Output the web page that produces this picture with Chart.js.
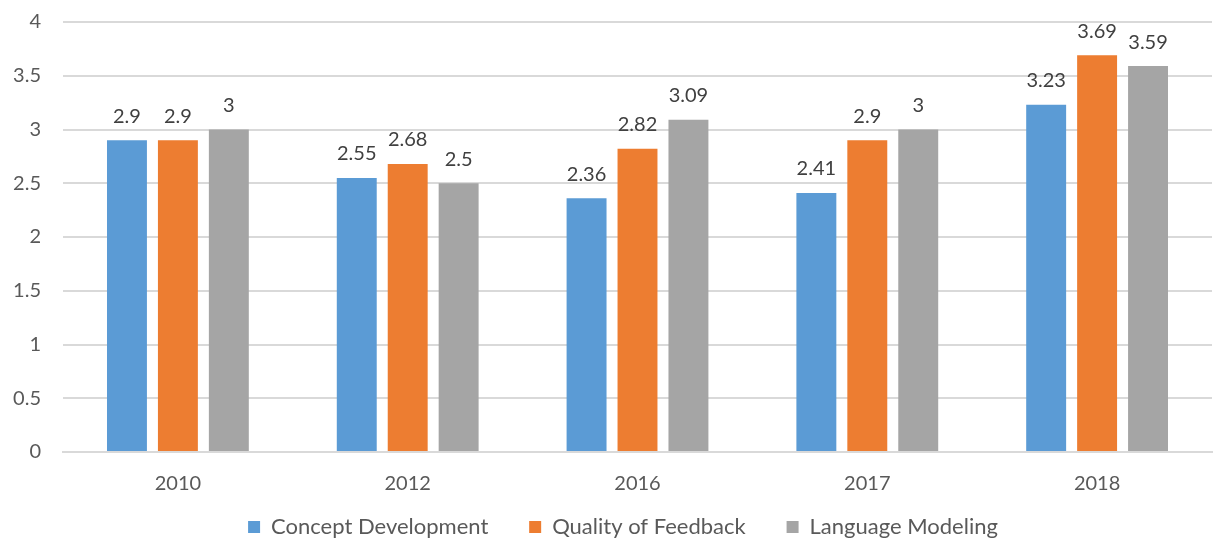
<!DOCTYPE html>
<html>
  <head>
    <script src="https://cdn.jsdelivr.net/npm/chart.js@4.4.0/dist/chart.umd.min.js"></script>
    <style>
      html, body { margin: 0; padding: 0; background: #fff; }
      .chart-container { width: 1217px; height: 539px; }
    </style>
  </head>
  <body>
    <div class="chart-container">
      <canvas id="myChart"></canvas>
    </div>
    <script>
      // chart data
      var years = ["2010", "2012", "2016", "2017", "2018"];
      var conceptDevelopment = [2.9, 2.55, 2.36, 2.41, 3.23];
      var qualityOfFeedback = [2.9, 2.68, 2.82, 2.9, 3.69];
      var languageModeling = [3, 2.5, 3.09, 3, 3.59];

      var FONT = "Lato, 'Open Sans', sans-serif";

      // draws the value above every bar
      var valueLabels = {
        id: "valueLabels",
        afterDatasetsDraw: function (chart) {
          var ctx = chart.ctx;
          ctx.save();
          ctx.font = "20px " + FONT;
          ctx.fillStyle = "#404040";
          ctx.textAlign = "center";
          ctx.textBaseline = "middle";
          chart.data.datasets.forEach(function (ds, i) {
            chart.getDatasetMeta(i).data.forEach(function (bar, j) {
              ctx.fillText(String(ds.data[j]), bar.x, bar.y - 24);
            });
          });
          ctx.restore();
        },
      };

      // legend in the original sits a bit right of centre
      var legendShift = {
        id: "legendShift",
        afterLayout: function (chart) {
          chart.legend.left += 17;
          chart.legend.right += 17;
        },
      };

      var ctx = document.getElementById("myChart").getContext("2d");
      var chart = new Chart(ctx, {
        type: "bar",
        data: {
          labels: years,
          datasets: [
            { label: "Concept Development", data: conceptDevelopment, backgroundColor: "#5b9bd5" },
            { label: "Quality of Feedback", data: qualityOfFeedback, backgroundColor: "#ed7d31" },
            { label: "Language Modeling", data: languageModeling, backgroundColor: "#a5a5a5" },
          ],
        },
        options: {
          responsive: true,
          maintainAspectRatio: false,
          animation: false,
          layout: { padding: { top: 22, right: 5, left: 0, bottom: -9 } },
          datasets: {
            bar: { categoryPercentage: 0.665, barPercentage: 0.784 },
          },
          plugins: {
            tooltip: { enabled: false },
            legend: {
              position: "bottom",
              labels: {
                boxWidth: 12,
                boxHeight: 12,
                padding: 24,
                color: "#595959",
                font: { family: FONT, size: 22 },
                generateLabels: function (chart) {
                  var items = Chart.defaults.plugins.legend.labels.generateLabels(chart);
                  items.forEach(function (it, i) {
                    if (i < items.length - 1) it.text += "   ";
                  });
                  return items;
                },
              },
            },
          },
          scales: {
            x: {
              grid: { display: false },
              border: { color: "#d9d9d9", width: 2 },
              ticks: { color: "#595959", font: { family: FONT, size: 20 }, padding: 12 },
              afterFit: function (scale) {
                scale.height = 40;
                scale.paddingLeft = 0;
                scale.paddingRight = 0;
              },
            },
            y: {
              min: 0,
              max: 4,
              ticks: {
                stepSize: 0.5,
                color: "#595959",
                font: { family: FONT, size: 20 },
                padding: 22,
                callback: function (v) { return String(v); },
              },
              grid: { color: "#d9d9d9", lineWidth: 2, drawTicks: false },
              border: { display: false },
              afterFit: function (scale) {
                scale.width = 63;
                scale.paddingTop = 0;
                scale.paddingBottom = 0;
              },
            },
          },
        },
        plugins: [valueLabels, legendShift],
      });
    </script>
  </body>
</html>
